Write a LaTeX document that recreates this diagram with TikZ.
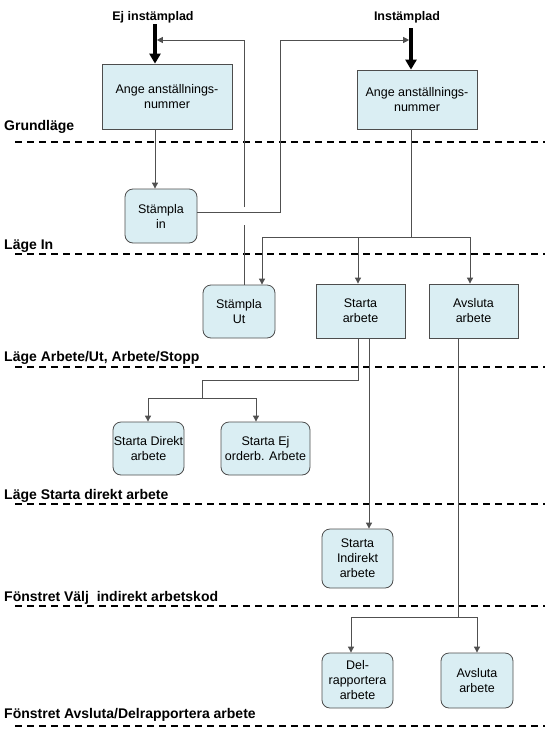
\documentclass[tikz,border=0pt]{standalone}
\usepackage{fontspec}
\setmainfont{Liberation Sans}
\usetikzlibrary{arrows.meta,calc}
\definecolor{boxfill}{HTML}{DAEEF3}
\definecolor{boxline}{HTML}{4D4D4D}
\definecolor{connc}{HTML}{505050}
\begin{document}
\begin{tikzpicture}[x=1pt,y=-1pt,
  box/.style={draw=boxline,fill=boxfill,line width=0.8pt,align=center,inner sep=0pt,font=\fontsize{12.5}{15}\selectfont},
  sq/.style={box},
  rbox/.style={box,rounded corners=8pt},
  conn/.style={draw=connc,line width=0.9pt},
  arr/.style={conn,-{Triangle[width=6pt,length=6pt]}},
  thickarr/.style={line width=3.6pt,-{Triangle[width=11pt,length=10pt]}},
  sep/.style={line width=1.3pt,dash pattern=on 7pt off 5pt},
  lbl/.style={anchor=base west,font=\bfseries\fontsize{14}{16}\selectfont,inner sep=0pt},
  ttl/.style={anchor=base,font=\bfseries\fontsize{12.5}{15}\selectfont,inner sep=0pt}]
\useasboundingbox (0,0) rectangle (550,729);

% separators and level labels
\draw[sep] (15,142) -- (545,142);
\draw[sep] (15,254) -- (545,254);
\draw[sep] (15,367) -- (545,367);
\draw[sep] (15,504) -- (545,504);
\draw[sep] (15,606) -- (545,606);
\draw[sep] (15,726) -- (545,726);
\node[lbl] (l1) at (4,130) {Grundläge};
\node[lbl] (l2) at (4,249) {Läge In};
\node[lbl] (l3) at (4,361) {Läge Arbete/Ut, Arbete/Stopp};
\node[lbl] (l4) at (4,499) {Läge Starta direkt arbete};
\node[lbl] (l5) at (4,601) {Fönstret Välj\ \ indirekt arbetskod};
\node[lbl] (l6) at (4,718) {Fönstret Avsluta/Delrapportera arbete};

% titles
\node[ttl] (ej) at (153,20.5) {Ej instämplad};
\node[ttl] (ins) at (407,20.5) {Instämplad};

% boxes
\node[sq, minimum width=130pt, minimum height=65pt] (a1) at (167,96.5) {Ange anställnings-\\nummer};
\node[sq, minimum width=120pt, minimum height=59pt] (a2) at (417,99.5) {Ange anställnings-\\nummer};
\node[rbox, minimum width=72pt, minimum height=54pt] (sin) at (161,216) {Stämpla\\in};
\node[rbox, minimum width=72pt, minimum height=53pt] (sut) at (239,311.5) {Stämpla\\Ut};
\node[sq, minimum width=89pt, minimum height=54pt] (sta) at (360.5,311) {Starta\\arbete};
\node[sq, minimum width=89pt, minimum height=54pt] (avs) at (473.5,311) {Avsluta\\arbete};
\node[rbox, minimum width=71pt, minimum height=53pt] (sdir) at (148.5,448.5) {Starta Direkt\\arbete};
\node[rbox, minimum width=89pt, minimum height=53pt] (sej) at (265.5,448.5) {Starta Ej\\orderb. Arbete};
\node[rbox, minimum width=71pt, minimum height=59pt] (sind) at (357.5,558.5) {Starta\\Indirekt\\arbete};
\node[rbox, minimum width=71pt, minimum height=55pt] (del) at (357.5,680.5) {Del-\\rapportera\\arbete};
\node[rbox, minimum width=72pt, minimum height=55pt] (avs2) at (477,680.5) {Avsluta\\arbete};

% entry arrows
\coordinate (ejx) at (155,24);
\coordinate (inx) at (411,28);
\draw[thickarr] (ejx) -- (ejx |- a1.north);
\draw[thickarr] (inx) -- (inx |- a2.north);

% Grundläge -> Stämpla in
\draw[arr] (a1.south -| ejx) -- (sin.north -| ejx);

% Stämpla in -> Instämplad
\coordinate (c1) at (280,40);
\draw[arr] ($(sin.east)+(0,-4)$) -| (c1) -- ($(inx |- c1)+(-1.8,0)$);

% Stämpla Ut -> Ej instämplad (with line jump)
\coordinate (g1) at (244,225);
\coordinate (g2) at (244,207);
\coordinate (c2) at (244,40);
\draw[conn] (sut.north -| g1) -- (g1);
\draw[arr] (g2) -- (c2) -- ($(ejx |- c2)+(1.8,0)$);

% Läge In distribution
\coordinate (dA) at (262,237);
\coordinate (dB) at (358,237);
\coordinate (dC) at (470,237);
\draw[conn] (a2.south -| inx) -- (inx |- dA);
\draw[conn] (dA) -- (dC);
\draw[arr] (dA) -- (dA |- sut.north);
\draw[arr] (dB) -- (dB |- sta.north);
\draw[arr] (dC) -- (dC |- avs.north);

% Starta arbete -> Starta Direkt / Starta Ej
\coordinate (e1) at (358,380);
\coordinate (e2) at (202,380);
\coordinate (e3) at (202,398);
\coordinate (fA) at (148,398);
\coordinate (fB) at (256,398);
\draw[conn] (sta.south -| e1) -- (e1) -- (e2) -- (e3);
\draw[conn] (fA) -- (fB);
\draw[arr] (fA) -- (fA |- sdir.north);
\draw[arr] (fB) -- (fB |- sej.north);

% Starta arbete -> Starta Indirekt
\coordinate (hx) at (369,340);
\draw[arr] (sta.south -| hx) -- (sind.north -| hx);

% Avsluta arbete -> Delrapportera / Avsluta
\coordinate (k1) at (458,617);
\coordinate (kA) at (351,617);
\coordinate (kB) at (477,617);
\draw[conn] (avs.south -| k1) -- (k1);
\draw[conn] (kA) -- (kB);
\draw[arr] (kA) -- (kA |- del.north);
\draw[arr] (kB) -- (kB |- avs2.north);
\end{tikzpicture}
\end{document}
